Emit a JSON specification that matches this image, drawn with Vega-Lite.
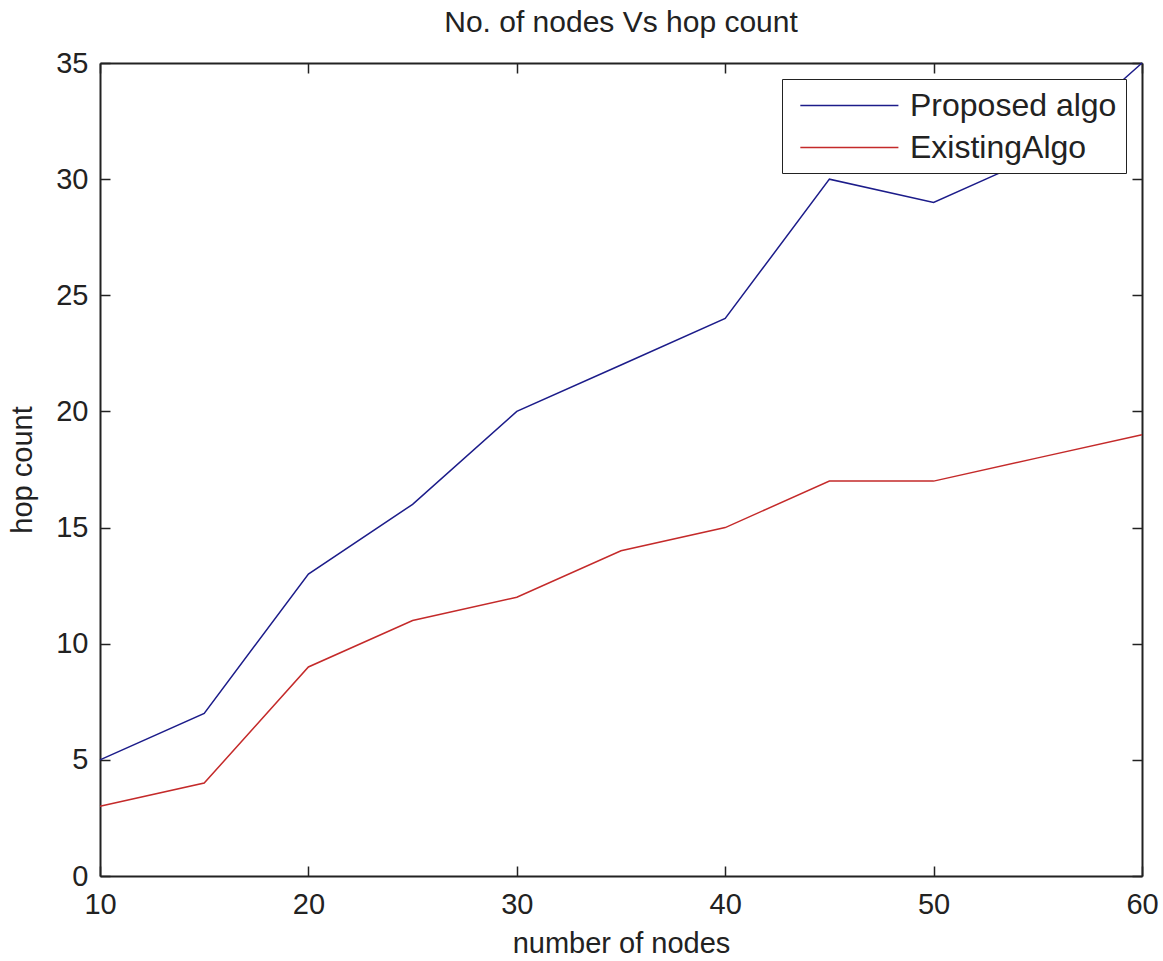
{
  "$schema": "https://vega.github.io/schema/vega-lite/v6.json",
  "width": 1042,
  "height": 813,
  "autosize": {"type": "none"},
  "padding": {"left": 100, "top": 63, "right": 21, "bottom": 85},
  "background": "white",
  "title": {"text": "No. of nodes Vs hop count", "fontSize": 30, "font": "Liberation Sans", "fontWeight": "normal", "color": "#222222", "offset": 12, "dy": 25, "frame": "group", "anchor": "middle", "baseline": "alphabetic"},
  "config": {
    "view": {"stroke": null},
    "font": "Liberation Sans",
    "axis": {"grid": false, "domainColor": "#222222", "domainWidth": 2, "tickColor": "#222222", "tickWidth": 1.5, "tickSize": -10, "labelColor": "#222222", "labelFont": "Liberation Sans", "labelFontSize": 29, "titleFont": "Liberation Sans", "titleFontSize": 29, "titleFontWeight": "normal", "titleColor": "#222222", "labelFlush": false, "labelOverlap": false}
  },
  "data": {"values": [
    {"nodes": 10, "hops": 5, "algo": "Proposed algo"},
    {"nodes": 15, "hops": 7, "algo": "Proposed algo"},
    {"nodes": 20, "hops": 13, "algo": "Proposed algo"},
    {"nodes": 25, "hops": 16, "algo": "Proposed algo"},
    {"nodes": 30, "hops": 20, "algo": "Proposed algo"},
    {"nodes": 35, "hops": 22, "algo": "Proposed algo"},
    {"nodes": 40, "hops": 24, "algo": "Proposed algo"},
    {"nodes": 45, "hops": 30, "algo": "Proposed algo"},
    {"nodes": 50, "hops": 29, "algo": "Proposed algo"},
    {"nodes": 55, "hops": 31, "algo": "Proposed algo"},
    {"nodes": 60, "hops": 35, "algo": "Proposed algo"},
    {"nodes": 10, "hops": 3, "algo": "ExistingAlgo"},
    {"nodes": 15, "hops": 4, "algo": "ExistingAlgo"},
    {"nodes": 20, "hops": 9, "algo": "ExistingAlgo"},
    {"nodes": 25, "hops": 11, "algo": "ExistingAlgo"},
    {"nodes": 30, "hops": 12, "algo": "ExistingAlgo"},
    {"nodes": 35, "hops": 14, "algo": "ExistingAlgo"},
    {"nodes": 40, "hops": 15, "algo": "ExistingAlgo"},
    {"nodes": 45, "hops": 17, "algo": "ExistingAlgo"},
    {"nodes": 50, "hops": 17, "algo": "ExistingAlgo"},
    {"nodes": 55, "hops": 18, "algo": "ExistingAlgo"},
    {"nodes": 60, "hops": 19, "algo": "ExistingAlgo"}
  ]},
  "layer": [
    {
      "mark": {"type": "line", "strokeWidth": 1.5},
      "encoding": {
        "x": {"field": "nodes", "type": "quantitative", "scale": {"domain": [10, 60], "nice": false, "zero": false},
              "axis": {"orient": "bottom", "values": [10, 20, 30, 40, 50, 60], "labelPadding": 24, "title": "number of nodes", "titlePadding": 10}},
        "y": {"field": "hops", "type": "quantitative", "scale": {"domain": [0, 35], "nice": false},
              "axis": {"orient": "left", "values": [0, 5, 10, 15, 20, 25, 30, 35], "labelPadding": 22, "title": "hop count", "titlePadding": 18}},
        "color": {"field": "algo", "type": "nominal", "sort": ["Proposed algo", "ExistingAlgo"],
                  "scale": {"domain": ["Proposed algo", "ExistingAlgo"], "range": ["#1c1c8a", "#c42a2a"]},
                  "legend": {"title": null, "orient": "none", "legendX": 682, "legendY": 16, "symbolType": "M-0.5,0H5.5", "symbolSize": 1069, "symbolStrokeWidth": 1.5, "labelFontSize": 32, "labelFont": "Liberation Sans", "labelColor": "#222222", "labelOffset": 84, "rowPadding": 8, "padding": 9, "strokeColor": "#222222", "fillColor": "white", "labelLimit": 400}}
      }
    },
    {
      "mark": {"type": "line", "opacity": 0},
      "encoding": {
        "x": {"field": "nodes", "type": "quantitative", "scale": {"domain": [10, 60], "nice": false, "zero": false},
              "axis": {"orient": "top", "values": [10, 20, 30, 40, 50, 60], "labels": false, "title": null}},
        "y": {"field": "hops", "type": "quantitative", "scale": {"domain": [0, 35], "nice": false},
              "axis": {"orient": "right", "values": [0, 5, 10, 15, 20, 25, 30, 35], "labels": false, "title": null}},
        "detail": {"field": "algo"}
      }
    }
  ],
  "resolve": {"axis": {"x": "independent", "y": "independent"}}
}
